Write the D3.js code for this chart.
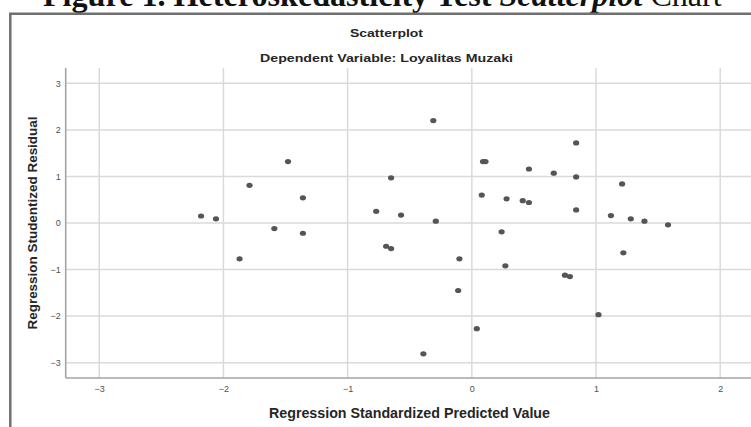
<!DOCTYPE html>
<html>
<head>
<meta charset="utf-8">
<script src="https://cdn.jsdelivr.net/npm/d3@7"></script>
<style>
    html, body { margin: 0; padding: 0; background: #fff; }
    svg { display: block; }
    .tick-label { font-family: "Liberation Sans", Arial, sans-serif; font-size: 9px; fill: #505050; }
    .axis-title { font-family: "Liberation Sans", Arial, sans-serif; font-weight: bold; fill: #262626; }
</style>
</head>
<body>
<svg id="viz"></svg>
<script>
// Data
var predicted = [-2.18, -2.06, -1.87, -1.79, -1.59, -1.48, -1.36, -1.36, -0.77, -0.69,
                 -0.65, -0.65, -0.57, -0.39, -0.31, -0.29, -0.11, -0.10, 0.04, 0.08,
                 0.09, 0.11, 0.24, 0.27, 0.28, 0.41, 0.46, 0.46, 0.66, 0.75,
                 0.79, 0.84, 0.84, 0.84, 1.02, 1.12, 1.21, 1.22, 1.28, 1.39, 1.58];
var residual  = [0.15, 0.09, -0.77, 0.81, -0.12, 1.32, 0.54, -0.22, 0.25, -0.50,
                 0.97, -0.55, 0.17, -2.81, 2.20, 0.04, -1.45, -0.77, -2.27, 0.60,
                 1.32, 1.32, -0.19, -0.92, 0.52, 0.48, 1.16, 0.44, 1.07, -1.12,
                 -1.15, 1.72, 0.99, 0.28, -1.97, 0.16, 0.84, -0.64, 0.09, 0.04, -0.04];
var xTicks = [-3, -2, -1, 0, 1, 2];
var yTicks = [3, 2, 1, 0, -1, -2, -3];

var chartTitle = 'Scatterplot';
var chartSubtitle = 'Dependent Variable: Loyalitas Muzaki';
var xTitle = 'Regression Standardized Predicted Value';
var yTitle = 'Regression Studentized Residual';

var width = 751;
var height = 427;

var svg = d3.select('#viz')
            .attr('width', width)
            .attr('height', height);

/******************** caption above the figure (cut off at the top, as in the scan) ********************/
var caption = svg.append('text')
                 .attr('x', 43)
                 .attr('y', 5.5)
                 .style('font-family', '"Liberation Serif", "Times New Roman", serif')
                 .style('font-size', '30px')
                 .style('fill', '#111');
caption.append('tspan').style('font-weight', 'bold').text('Figure 1. Heteroskedasticity Test ');
caption.append('tspan').style('font-weight', 'bold').style('font-style', 'italic').text('Scatterplot');
caption.append('tspan').text(' Chart');
// fit the caption to the width seen in the picture
var capW = caption.node().getComputedTextLength();
caption.style('font-size', (30 * 679 / capW) + 'px');

// frame of the SPSS output
svg.append('line').attr('x1', 9).attr('x2', width).attr('y1', 13.8).attr('y2', 13.8)
   .attr('stroke', '#707070').attr('stroke-width', 2.4);
svg.append('line').attr('x1', 10.3).attr('x2', 10.3).attr('y1', 13).attr('y2', height)
   .attr('stroke', '#707070').attr('stroke-width', 2.5);

/******************** scales ********************/
var xScale = d3.scaleLinear().domain([-3.27, 2.26]).range([65.7, 752.5]);
var yScale = d3.scaleLinear().domain([-3.33, 3.33]).range([378, 68]);

var g = svg.append('g');

// grid
g.selectAll('.vgrid').data(xTicks).enter()
 .append('line')
 .attr('class', 'vgrid')
 .attr('x1', d => xScale(d)).attr('x2', d => xScale(d))
 .attr('y1', yScale.range()[1]).attr('y2', yScale.range()[0])
 .attr('stroke', '#dadada').attr('stroke-width', 1.5);

g.selectAll('.hgrid').data(yTicks).enter()
 .append('line')
 .attr('class', 'hgrid')
 .attr('x1', xScale.range()[0]).attr('x2', width)
 .attr('y1', d => yScale(d)).attr('y2', d => yScale(d))
 .attr('stroke', '#dadada').attr('stroke-width', 1.5);

// axes (no tick marks, labels only)
var xAxis = d3.axisBottom(xScale).tickValues(xTicks).tickSize(0).tickPadding(8)
              .tickFormat(d3.format('d'));
var yAxis = d3.axisLeft(yScale).tickValues(yTicks).tickSize(0).tickPadding(5)
              .tickFormat(d3.format('d'));

var xAxisG = svg.append('g')
                .attr('transform', `translate(0, ${yScale.range()[0]})`)
                .call(xAxis);
var yAxisG = svg.append('g')
                .attr('transform', `translate(${xScale.range()[0]}, 0)`)
                .call(yAxis);

[xAxisG, yAxisG].forEach(function(a){
    a.select('.domain').attr('stroke', '#a3a3a3').attr('stroke-width', 1.6);
    a.selectAll('text').attr('class', 'tick-label').attr('fill', null);
});
xAxisG.select('.domain').attr('d', `M${xScale.range()[0]},0H${width}`);
yAxisG.select('.domain').attr('d', `M0,${yScale.range()[1]}V${yScale.range()[0]}`);

// points
var pts = d3.range(predicted.length).map(i => ({x: predicted[i], y: residual[i]}));
g.selectAll('ellipse').data(pts).enter()
 .append('ellipse')
 .attr('cx', d => xScale(d.x))
 .attr('cy', d => yScale(d.y))
 .attr('rx', 3.1)
 .attr('ry', 2.6)
 .attr('fill', '#555');

/******************** titles ********************/
svg.append('text')
   .attr('class', 'axis-title')
   .attr('x', 386.5).attr('y', 36.5)
   .attr('text-anchor', 'middle')
   .style('font-size', '11.5px')
   .attr('textLength', 73).attr('lengthAdjust', 'spacingAndGlyphs')
   .text(chartTitle);

svg.append('text')
   .attr('class', 'axis-title')
   .attr('x', 386.5).attr('y', 61.5)
   .attr('text-anchor', 'middle')
   .style('font-size', '11.5px')
   .attr('textLength', 253).attr('lengthAdjust', 'spacingAndGlyphs')
   .text(chartSubtitle);

svg.append('text')
   .attr('class', 'axis-title')
   .attr('x', 409.5).attr('y', 418)
   .attr('text-anchor', 'middle')
   .style('font-size', '14px')
   .attr('textLength', 281).attr('lengthAdjust', 'spacingAndGlyphs')
   .text(xTitle);

svg.append('text')
   .attr('class', 'axis-title')
   .attr('transform', 'translate(36.5, 223) rotate(-90)')
   .attr('text-anchor', 'middle')
   .style('font-size', '13.4px')
   .attr('textLength', 213).attr('lengthAdjust', 'spacingAndGlyphs')
   .text(yTitle);
</script>
</body>
</html>
